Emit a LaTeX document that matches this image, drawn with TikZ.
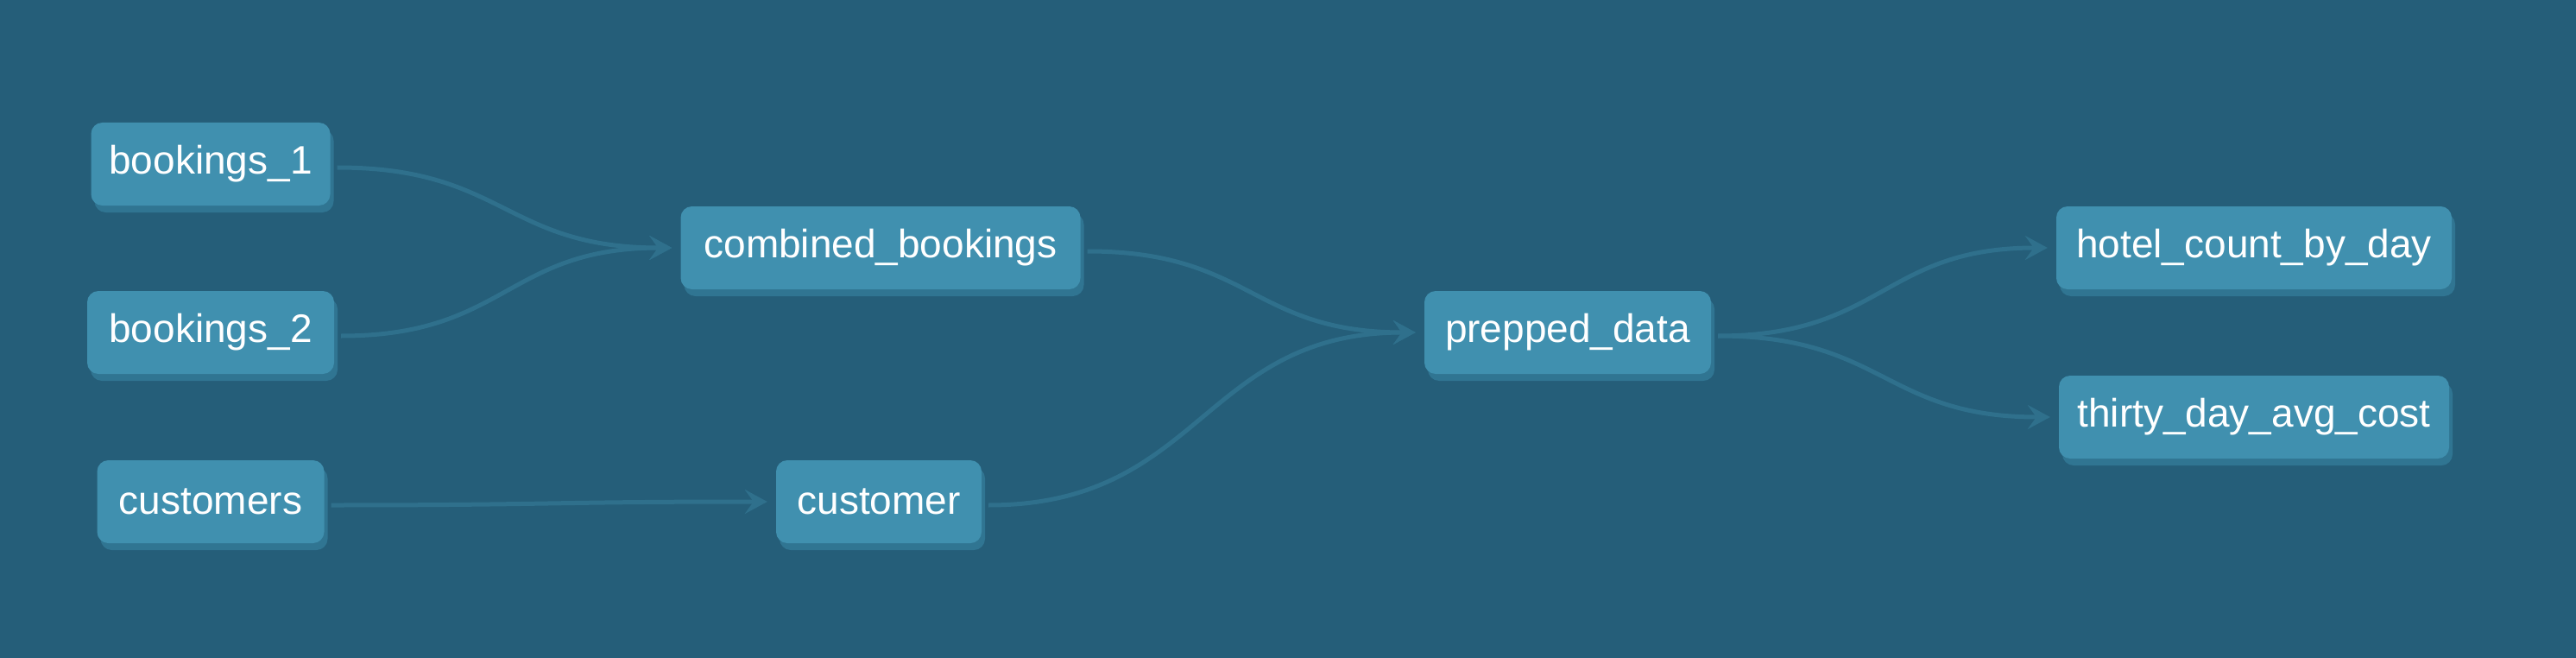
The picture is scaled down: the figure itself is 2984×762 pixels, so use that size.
\documentclass[tikz,border=0pt]{standalone}
\usepackage{fontspec}
\setmainfont{Liberation Sans}
\usetikzlibrary{arrows.meta,shadows,calc}
\definecolor{bgcol}{RGB}{37,94,121}
\definecolor{nodecol}{RGB}{64,144,175}
\definecolor{shcol}{RGB}{48,117,146}
\definecolor{edgecol}{RGB}{47,112,140}
\tikzset{
  box/.style={rounded corners=13pt, fill=nodecol, text=white, inner sep=0pt,
    minimum height=96pt, font=\fontsize{46}{54}\selectfont,
    copy shadow={shadow xshift=4pt, shadow yshift=-8pt, fill=shcol, draw=none}},
  edgeline/.style={draw=edgecol, line width=5pt,
    -{Stealth[length=26pt 0,width=28pt 0,inset=10pt 0]}}
}
\newcommand\conn[2]{\draw[edgeline] let \p1=([xshift=8pt,yshift=-4pt]#1.east), \p2=([xshift=-10pt]#2.west) in (\p1) .. controls ({(\x1+\x2)/2},\y1) and ({(\x1+\x2)/2},\y2) .. (\p2);}
\begin{document}
\begin{tikzpicture}[x=1pt,y=-1pt]
\fill[bgcol] (0,0) rectangle (2984,762);
\useasboundingbox (0,0) rectangle (2984,762);
\node[box, minimum width=277pt] (b1) at (244,190) {bookings\_1};
\node[box, minimum width=286pt] (b2) at (244,385) {bookings\_2};
\node[box, minimum width=263pt] (cs) at (244,581) {customers};
\node[box, minimum width=463pt] (cb) at (1020,287) {combined\_bookings};
\node[box, minimum width=238pt] (cu) at (1018,581) {customer};
\node[box, minimum width=332pt] (pd) at (1816,385) {prepped\_data};
\node[box, minimum width=458pt] (hc) at (2611,287) {hotel\_count\_by\_day};
\node[box, minimum width=452pt] (td) at (2611,483) {thirty\_day\_avg\_cost};
\conn{b1}{cb}
\conn{b2}{cb}
\conn{cs}{cu}
\conn{cb}{pd}
\conn{cu}{pd}
\conn{pd}{hc}
\conn{pd}{td}
\end{tikzpicture}
\end{document}
